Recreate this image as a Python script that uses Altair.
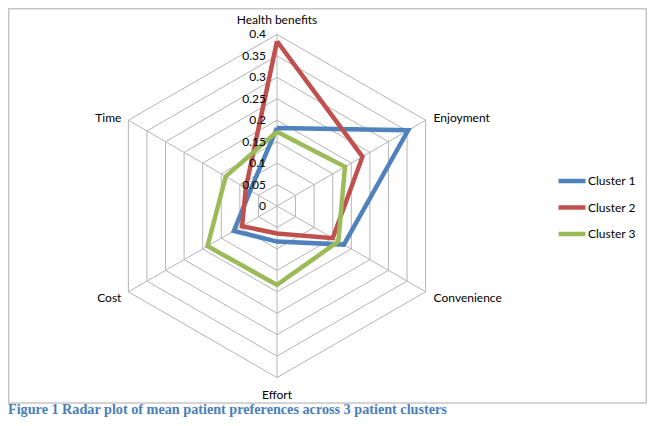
import altair as alt
import pandas as pd
import math

# ---------------- data ----------------
categories = ["Health benefits", "Enjoyment", "Convenience", "Effort", "Cost", "Time"]
series_names = ["Cluster 1", "Cluster 2", "Cluster 3"]
cluster1 = [0.182, 0.353, 0.180, 0.083, 0.116, 0.072]
cluster2 = [0.384, 0.230, 0.150, 0.064, 0.094, 0.084]
cluster3 = [0.173, 0.183, 0.165, 0.184, 0.187, 0.138]
tick_values = [0, 0.05, 0.1, 0.15, 0.2, 0.25, 0.3, 0.35, 0.4]
tick_labels = ["0", "0.05", "0.1", "0.15", "0.2", "0.25", "0.3", "0.35", "0.4"]
colors = ["#4F81BD", "#C0504D", "#9BBB59"]
caption = "Figure 1 Radar plot of mean patient preferences across 3 patient clusters"

# ---------------- layout constants ----------------
W, H = 639, 410
CX, CY = 269, 198          # radar centre in chart pixels
PX = 429.0                 # pixels per data unit
RMAX = max(tick_values)
FONT = "Lato"

xdom = [-CX / PX, (W - CX) / PX]
ydom = [-(H - CY) / PX, CY / PX]
xs = alt.Scale(domain=xdom, nice=False, zero=False)
ys = alt.Scale(domain=ydom, nice=False, zero=False)

n = len(categories)

# series table
rows = []
for name, vals in zip(series_names, [cluster1, cluster2, cluster3]):
    for i in range(n + 1):
        rows.append({"series": name, "idx": i, "value": vals[i % n]})
series_df = pd.DataFrame(rows)

# grid rings
ring_rows = []
for lv in tick_values[1:]:
    for i in range(n + 1):
        ring_rows.append({"level": lv, "idx": i})
ring_df = pd.DataFrame(ring_rows)

spoke_df = pd.DataFrame({"idx": list(range(n)), "r": [RMAX] * n})
tick_df = pd.DataFrame({"level": tick_values, "label": tick_labels})
cat_df = pd.DataFrame({"cat": categories, "idx": list(range(n))})

ang = "datum.idx * PI / 3"

X = alt.X("x:Q", scale=xs, axis=None)
Y = alt.Y("y:Q", scale=ys, axis=None)

rings = alt.Chart(ring_df).transform_calculate(
    x=f"datum.level * sin({ang})", y=f"datum.level * cos({ang})"
).mark_line(color="#b4b4b4", strokeWidth=1).encode(
    x=X, y=Y, detail="level:N", order="idx:Q"
)

spokes = alt.Chart(spoke_df).transform_calculate(
    x="0", y="0",
    x2=f"datum.r * sin({ang})", y2=f"datum.r * cos({ang})"
).mark_rule(color="#b4b4b4", strokeWidth=1).encode(
    x=X, y=Y, x2="x2:Q", y2="y2:Q"
)

lines = alt.Chart(series_df).transform_calculate(
    x=f"datum.value * sin({ang})", y=f"datum.value * cos({ang})"
).mark_line(strokeWidth=4.5, strokeJoin="miter").encode(
    x=X, y=Y, order="idx:Q",
    color=alt.Color(
        "series:N",
        scale=alt.Scale(domain=series_names, range=colors),
        legend=alt.Legend(
            title=None, orient="none", legendX=548, legendY=157,
            symbolType="stroke", symbolStrokeWidth=4.5, symbolSize=729,
            labelFont=FONT, labelFontSize=12, labelColor="#000000",
            labelOffset=0, rowPadding=1.5,
        ),
    ),
)

ticks = alt.Chart(tick_df).transform_calculate(x="0", y="datum.level").mark_text(
    align="right", baseline="middle", dx=-11, font=FONT, fontSize=12, color="#000000"
).encode(x=X, y=Y, text="label:N")

def cat_layer(names, align, dx, dy):
    return alt.Chart(cat_df).transform_filter(
        alt.FieldOneOfPredicate(field="cat", oneOf=names)
    ).transform_calculate(
        x=f"{RMAX} * sin({ang})", y=f"{RMAX} * cos({ang})"
    ).mark_text(
        align=align, baseline="middle", dx=dx, dy=dy, font=FONT, fontSize=12, color="#000000"
    ).encode(x=X, y=Y, text="cat:N")

cat_top = cat_layer([categories[0]], "center", 0, -14)
cat_bottom = cat_layer([categories[3]], "center", 0, 17)
cat_right_up = cat_layer([categories[1]], "left", 8, -2)
cat_right_down = cat_layer([categories[2]], "left", 8, 6)
cat_left = cat_layer([categories[5]], "right", -7, -2)
cat_left_down = cat_layer([categories[4]], "right", -7, 6)

border = alt.Chart(pd.DataFrame({"a": [0]})).mark_rect(
    fill=None, stroke="#c6c6c6", strokeWidth=1.5
).encode(x=alt.value(0.75), x2=alt.value(638.25), y=alt.value(0.75), y2=alt.value(395))

cap = alt.Chart(pd.DataFrame({"t": [caption]})).mark_text(
    align="left", baseline="alphabetic", font="Liberation Serif", fontWeight="bold",
    fontSize=14.2, color="#4a7ebb"
).encode(x=alt.value(0), y=alt.value(406), text="t:N")

chart = alt.layer(
    border, rings, spokes, lines, ticks,
    cat_top, cat_bottom, cat_right_up, cat_right_down, cat_left, cat_left_down, cap
).properties(
    width=W, height=H, padding=0, autosize=alt.AutoSizeParams(type="none")
).configure_view(strokeWidth=0)

chart.save("out.html", embed_options={"renderer": "svg", "actions": False})
